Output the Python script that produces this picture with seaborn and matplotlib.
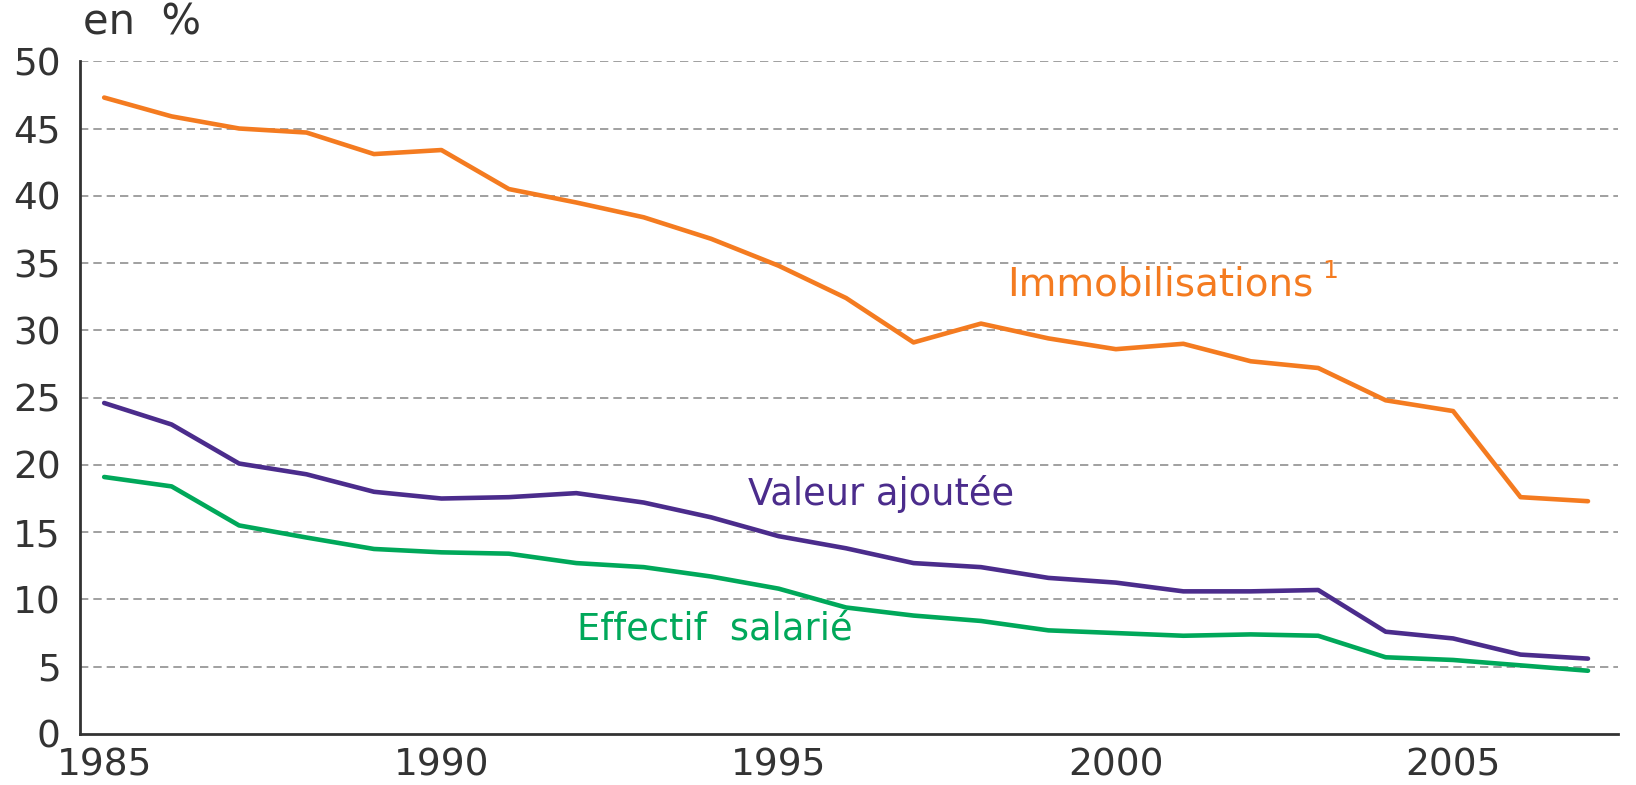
import matplotlib
matplotlib.use("Agg")
import matplotlib.pyplot as plt
import seaborn as sns
import pandas as pd

years = list(range(1985, 2008))
immobilisations = [47.3, 45.9, 45.0, 44.7, 43.1, 43.4, 40.5, 39.5, 38.4, 36.8, 34.8, 32.4,
                   29.1, 30.5, 29.4, 28.6, 29.0, 27.7, 27.2, 24.8, 24.0, 17.6, 17.3]
valeur_ajoutee = [24.6, 23.0, 20.1, 19.3, 18.0, 17.5, 17.6, 17.9, 17.2, 16.1, 14.7, 13.8,
                  12.7, 12.4, 11.6, 11.25, 10.6, 10.6, 10.7, 7.6, 7.1, 5.9, 5.6]
effectif_salarie = [19.1, 18.4, 15.5, 14.6, 13.75, 13.5, 13.4, 12.7, 12.4, 11.7, 10.8, 9.4,
                    8.8, 8.4, 7.7, 7.5, 7.3, 7.4, 7.3, 5.7, 5.5, 5.1, 4.7]
series_names = ["Immobilisations", "Valeur ajoutée", "Effectif salarié"]
colors = ["#F47B20", "#4B2C8C", "#00A85A"]
y_ticks = [0, 5, 10, 15, 20, 25, 30, 35, 40, 45, 50]
x_ticks_major = [1985, 1990, 1995, 2000, 2005]

df = pd.DataFrame({
    "year": years * 3,
    "value": immobilisations + valeur_ajoutee + effectif_salarie,
    "series": [series_names[0]] * len(years) + [series_names[1]] * len(years) + [series_names[2]] * len(years),
})

sns.set_style("white")
plt.rcParams["font.family"] = ["DejaVu Sans"]

fig = plt.figure(figsize=(16.36, 7.85), dpi=100)
ax = fig.add_axes([0.049, 0.065, 0.940, 0.857])

sns.lineplot(data=df, x="year", y="value", hue="series", palette=colors,
             hue_order=series_names, linewidth=3.3, legend=False, ax=ax)

ax.set_xlim(1984.644, 2007.445)
ax.set_ylim(0, 50)
ax.set_yticks(y_ticks)
ax.set_xticks(x_ticks_major)
ax.set_xticks(years, minor=True)
ax.set_xlabel("")
ax.set_ylabel("")

for y in y_ticks[1:]:
    ax.axhline(y, color="#909090", linestyle=(0, (5, 3)), linewidth=1.2, zorder=0)

for s in ["top", "right"]:
    ax.spines[s].set_visible(False)
for s in ["left", "bottom"]:
    ax.spines[s].set_color("#333333")
    ax.spines[s].set_linewidth(2.0)

ax.tick_params(axis="y", direction="in", length=10, width=2, colors="#333333",
               labelsize=27, pad=14, labelcolor="#333333")
ax.tick_params(axis="x", which="both", direction="in", length=7, width=2, colors="#333333",
               labelsize=27, pad=10, labelcolor="#333333")

t_immo = ax.text(1998.39, 33.4, "Immobilisations", color="#F47B20", fontsize=28,
                 ha="left", va="center")
ax.annotate("1", xy=(1, 0.55), xycoords=t_immo, xytext=(6, 0), textcoords="offset points",
            color="#F47B20", fontsize=18, ha="left", va="bottom")
ax.text(1994.55, 17.8, "Valeur ajoutée", color="#4B2C8C", fontsize=26.5,
        ha="left", va="center")
ax.text(1992.01, 7.8, "Effectif  salarié", color="#00A85A", fontsize=26.5,
        ha="left", va="center")

fig.text(0.051, 0.971, "en  %", fontsize=30, color="#333333", ha="left", va="center")

fig.savefig("out.png", dpi=100, facecolor="white")
